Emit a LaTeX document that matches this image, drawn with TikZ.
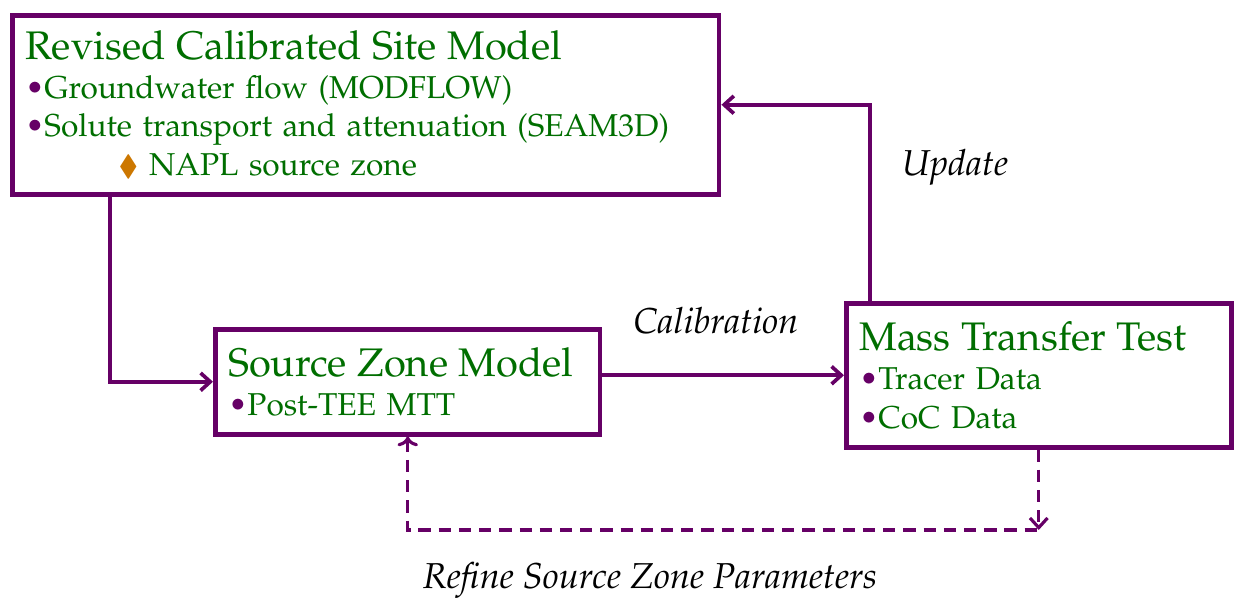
\documentclass[tikz,border=0pt]{standalone}
\usepackage[T1]{fontenc}
\usepackage{mathpazo}
\usepackage{amssymb}
\usepackage{xcolor}
\usetikzlibrary{arrows.meta}
\definecolor{boxpurple}{RGB}{102,0,102}
\definecolor{txtgreen}{RGB}{0,110,0}
\definecolor{diamondorange}{RGB}{204,119,0}
\newcommand{\titlefont}{\fontsize{22.7}{26.5}\selectfont}
\newcommand{\bodyfont}{\fontsize{18}{22}\selectfont}
\newcommand{\pbul}{{\color{boxpurple}\textbullet}}
\tikzset{
    modelbox/.style={draw=boxpurple, line width=2.6pt, anchor=north west, align=left,
        text=txtgreen, inner xsep=0.26cm, inner ysep=0pt, font=\bodyfont},
    flow/.style={draw=boxpurple, line width=2.1pt, -{Straight Barb[length=5.5pt,width=10pt]}},
    dashflow/.style={flow, line width=1.8pt, dash pattern=on 7pt off 4.5pt},
    steplabel/.style={font=\fontsize{20.5}{24}\selectfont\itshape}
}

\begin{document}
\begin{tikzpicture}[x=0.02cm, y=0.02cm]
        \useasboundingbox (0,0) rectangle (1235,601);
        \node[modelbox, text width=13.62cm, minimum height=3.58cm] (rcsm) at (10,588)
            {{\titlefont Revised Calibrated Site Model}\\
             \pbul Groundwater flow (MODFLOW)\\
             \pbul Solute transport and attenuation (SEAM3D)\\
             \hspace*{2.95em}{\color{diamondorange}\fontsize{16}{20}\selectfont$\blacklozenge$}\hspace{0.35em}NAPL source zone};
        \node[modelbox, text width=7.18cm, minimum height=2.1cm] (szm) at (213,274)
            {{\titlefont Source Zone Model}\\ \pbul Post-TEE MTT};
        \node[modelbox, text width=7.18cm, minimum height=2.88cm] (mtt) at (844,300)
            {{\titlefont Mass Transfer Test}\\ \pbul Tracer Data\\ \pbul CoC Data};
        \node[steplabel] (calib)  at (716,280) {Calibration};
        \node[steplabel] (update) at (955,434) {Update};
        \node[steplabel] (refine) at (650,21)  {Refine Source Zone Parameters};
        \coordinate (dashlow) at (0,71);
        \draw[flow] (rcsm.south west) ++(100,0) |- (szm.west);
        \draw[flow] (szm.east |- mtt.west) -- (mtt.west);
        \draw[flow] (mtt.north west) ++(26,0) |- (rcsm.east);
        \draw[dashflow, <-] (szm.south) |- (mtt.south |- dashlow);
        \draw[dashflow] (mtt.south) -- (mtt.south |- dashlow);
    \end{tikzpicture}
\end{document}
